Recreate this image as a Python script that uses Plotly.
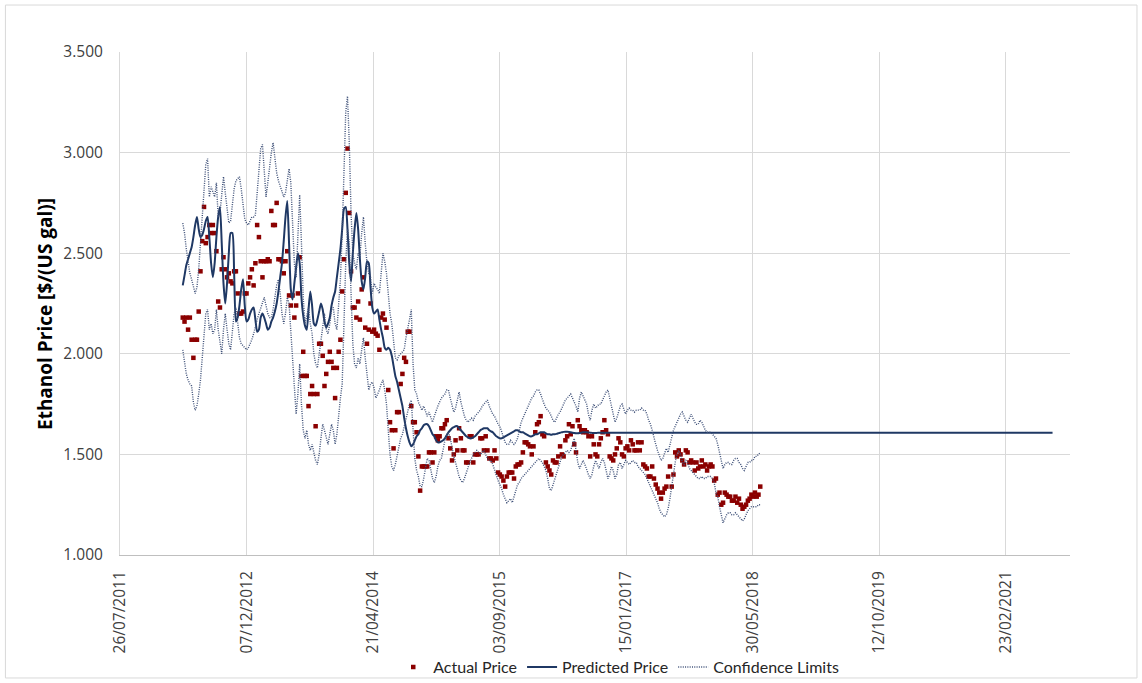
import pandas as pd
import plotly.graph_objects as go

# weekly observation dates (first week and count)
start_date = "2012-03-30"

actual = [
 2.18,2.16,2.18,2.12,2.18,2.07,1.98,2.07,2.07,2.21,
 2.41,2.56,2.73,2.55,2.58,2.64,2.60,2.64,2.60,2.51,
 2.26,2.23,2.42,2.48,2.42,2.38,2.40,2.36,2.35,2.41,
 2.41,2.30,2.20,2.20,2.21,2.30,2.30,2.35,2.38,2.42,
 2.34,2.45,2.64,2.58,2.46,2.38,2.46,2.46,2.47,2.46,
 2.71,2.64,2.64,2.75,2.47,2.47,2.46,2.40,2.46,2.51,
 2.29,2.24,2.29,2.18,2.24,2.30,2.48,1.89,2.01,1.89,
 1.89,1.74,1.80,1.84,1.80,1.64,1.80,2.05,2.05,1.99,
 1.84,1.90,1.96,2.01,1.96,1.93,1.78,1.93,2.01,2.07,
 2.31,2.47,2.80,3.02,2.70,2.41,2.23,2.23,2.18,2.26,
 2.17,2.32,2.38,2.13,2.05,2.12,2.25,2.11,2.12,2.10,
 2.09,2.02,2.18,2.20,2.17,2.13,1.82,1.66,1.62,1.53,
 1.62,1.71,1.71,1.85,1.90,1.98,1.96,2.11,2.11,1.74,
 1.66,1.66,1.61,1.49,1.32,1.44,1.44,1.44,1.44,1.51,
 1.51,1.46,1.51,1.59,1.57,1.59,1.63,1.63,1.65,1.67,
 1.58,1.53,1.47,1.50,1.57,1.52,1.63,1.58,1.52,1.52,
 1.46,1.46,1.59,1.59,1.46,1.50,1.50,1.50,1.58,1.58,
 1.52,1.59,1.52,1.48,1.48,1.47,1.52,1.48,1.41,1.40,
 1.39,1.37,1.34,1.39,1.41,1.41,1.41,1.38,1.44,1.45,
 1.45,1.46,1.51,1.56,1.56,1.55,1.54,1.50,1.54,1.61,
 1.65,1.66,1.69,1.60,1.59,1.46,1.44,1.42,1.40,1.47,
 1.46,1.46,1.49,1.54,1.50,1.49,1.57,1.59,1.65,1.60,
 1.64,1.55,1.51,1.67,1.64,1.62,1.61,1.62,1.61,1.59,
 1.49,1.59,1.55,1.50,1.49,1.55,1.58,1.61,1.67,1.62,
 1.60,1.49,1.48,1.47,1.50,1.53,1.58,1.56,1.50,1.49,
 1.53,1.54,1.52,1.57,1.55,1.52,1.52,1.56,1.52,1.56,
 1.45,1.44,1.43,1.39,1.39,1.44,1.38,1.35,1.33,1.31,
 1.28,1.31,1.33,1.34,1.39,1.44,1.34,1.40,1.51,1.49,
 1.52,1.50,1.47,1.45,1.52,1.51,1.46,1.47,1.46,1.42,
 1.46,1.43,1.44,1.47,1.44,1.45,1.42,1.44,1.45,1.44,
 1.37,1.38,1.30,1.31,1.25,1.26,1.31,1.30,1.29,1.29,
 1.27,1.27,1.29,1.26,1.28,1.25,1.23,1.24,1.25,1.27,
 1.28,1.30,1.29,1.31,1.29,1.30,1.34]

predicted = [
 2.34,2.39,2.44,2.47,2.50,2.53,2.58,2.64,2.68,2.62,
 2.58,2.59,2.62,2.66,2.68,2.58,2.45,2.38,2.45,2.58,
 2.68,2.73,2.55,2.35,2.25,2.35,2.50,2.60,2.60,2.40,
 2.16,2.18,2.24,2.32,2.37,2.24,2.16,2.17,2.20,2.22,
 2.23,2.17,2.11,2.12,2.18,2.20,2.18,2.15,2.12,2.13,
 2.16,2.18,2.21,2.25,2.31,2.38,2.45,2.56,2.68,2.76,
 2.55,2.32,2.27,2.35,2.43,2.50,2.45,2.28,2.19,2.14,
 2.12,2.22,2.31,2.24,2.15,2.14,2.17,2.21,2.25,2.22,
 2.16,2.13,2.15,2.18,2.24,2.28,2.31,2.38,2.45,2.52,
 2.62,2.72,2.73,2.62,2.45,2.36,2.50,2.62,2.70,2.62,
 2.47,2.36,2.32,2.38,2.46,2.45,2.33,2.23,2.20,2.21,
 2.22,2.17,2.12,2.08,2.03,2.02,2.03,2.02,1.99,1.94,
 1.89,1.86,1.82,1.78,1.74,1.68,1.63,1.59,1.56,1.54,
 1.55,1.57,1.59,1.60,1.62,1.63,1.645,1.65,1.65,1.64,
 1.62,1.60,1.59,1.57,1.56,1.56,1.565,1.57,1.58,1.595,
 1.61,1.62,1.63,1.635,1.64,1.64,1.63,1.62,1.61,1.60,
 1.59,1.585,1.58,1.58,1.585,1.59,1.60,1.61,1.62,1.625,
 1.63,1.63,1.63,1.62,1.615,1.61,1.60,1.59,1.585,1.58,
 1.58,1.585,1.59,1.595,1.60,1.605,1.61,1.615,1.62,1.62,
 1.615,1.61,1.61,1.605,1.60,1.595,1.59,1.59,1.595,1.60,
 1.60,1.605,1.61,1.61,1.61,1.605,1.60,1.60,1.598,1.60,
 1.60,1.602,1.605,1.608,1.61,1.612,1.613,1.613,1.612,1.61,
 1.608,1.606,1.605,1.605,1.606,1.608,1.61,1.61,1.61,1.609,
 1.608,1.607,1.606,1.606,1.607,1.608,1.608,1.608,1.607,1.607,1.607]

# long-run forecast (flat)
forecast_dates = ["2017-06-30", "2018-06-29", "2019-06-28", "2020-06-26", "2021-08-27"]
forecast_values = [1.607, 1.607, 1.607, 1.607, 1.607]

upper = [
 2.65,2.60,2.52,2.45,2.40,2.37,2.34,2.30,2.33,2.42,
 2.55,2.68,2.82,2.94,2.97,2.78,2.83,2.80,2.78,2.85,
 2.68,2.70,2.80,2.88,2.80,2.73,2.65,2.66,2.76,2.82,
 2.86,2.87,2.88,2.82,2.74,2.67,2.65,2.64,2.66,2.68,
 2.68,2.69,2.80,2.92,3.02,3.04,2.88,2.78,2.85,2.94,
 3.00,3.05,2.97,2.90,2.86,2.83,2.80,2.78,2.80,2.86,
 2.92,2.85,2.65,2.45,2.38,2.60,2.79,2.55,2.28,2.15,
 2.20,2.23,2.15,2.10,2.00,1.95,1.93,2.00,2.08,2.15,
 2.20,2.12,2.10,2.15,2.22,2.23,2.15,2.12,2.25,2.37,
 2.60,2.95,3.20,3.28,3.05,2.70,2.50,2.45,2.42,2.50,
 2.48,2.60,2.68,2.55,2.45,2.40,2.38,2.30,2.35,2.33,
 2.32,2.30,2.40,2.50,2.46,2.40,2.30,2.20,2.15,2.05,
 1.98,1.97,1.99,2.00,2.01,2.02,2.08,2.12,2.17,2.22,
 1.95,1.82,1.80,1.76,1.74,1.72,1.74,1.71,1.69,1.71,
 1.68,1.66,1.69,1.72,1.74,1.76,1.78,1.79,1.80,1.82,
 1.82,1.78,1.74,1.71,1.73,1.77,1.81,1.76,1.72,1.69,
 1.67,1.66,1.67,1.68,1.67,1.69,1.70,1.71,1.72,1.74,
 1.75,1.76,1.77,1.74,1.72,1.70,1.69,1.67,1.65,1.64,
 1.61,1.58,1.56,1.55,1.55,1.57,1.56,1.55,1.56,1.58,
 1.62,1.66,1.68,1.70,1.72,1.74,1.76,1.78,1.79,1.81,
 1.82,1.82,1.80,1.77,1.75,1.73,1.72,1.71,1.69,1.67,
 1.66,1.68,1.70,1.71,1.73,1.75,1.77,1.78,1.79,1.80,
 1.78,1.76,1.74,1.71,1.78,1.81,1.79,1.77,1.75,1.70,
 1.67,1.72,1.75,1.73,1.74,1.75,1.75,1.77,1.79,1.81,
 1.82,1.77,1.74,1.70,1.66,1.68,1.71,1.74,1.75,1.72,
 1.70,1.72,1.73,1.72,1.72,1.71,1.72,1.72,1.72,1.73,
 1.72,1.72,1.70,1.67,1.65,1.62,1.58,1.55,1.52,1.49,
 1.47,1.48,1.51,1.53,1.51,1.55,1.59,1.62,1.64,1.66,
 1.68,1.70,1.71,1.69,1.67,1.66,1.68,1.70,1.68,1.66,
 1.65,1.65,1.67,1.66,1.64,1.62,1.61,1.61,1.61,1.60,
 1.59,1.58,1.55,1.51,1.46,1.43,1.45,1.46,1.46,1.45,
 1.45,1.47,1.48,1.48,1.46,1.45,1.43,1.42,1.44,1.46,
 1.46,1.47,1.47,1.49,1.49,1.50,1.51]

lower = [
 2.02,1.95,1.90,1.87,1.85,1.84,1.76,1.72,1.74,1.80,
 1.87,1.98,2.10,2.20,2.22,2.12,2.15,2.10,2.12,2.22,
 2.12,2.05,2.00,2.12,2.20,2.12,2.05,2.02,2.12,2.20,
 2.23,2.15,2.08,2.05,2.04,2.03,2.02,2.03,2.05,2.07,
 2.10,2.14,2.17,2.20,2.23,2.26,2.28,2.24,2.20,2.18,
 2.18,2.22,2.28,2.34,2.37,2.30,2.20,2.15,2.20,2.28,
 2.25,2.10,1.95,1.80,1.70,1.80,1.95,1.75,1.62,1.58,
 1.62,1.55,1.52,1.55,1.50,1.47,1.45,1.50,1.58,1.65,
 1.62,1.58,1.55,1.60,1.65,1.62,1.55,1.60,1.70,1.78,
 1.85,2.15,2.45,2.62,2.55,2.30,2.05,1.95,1.93,1.98,
 1.95,2.02,2.08,1.98,1.88,1.82,1.85,1.86,1.83,1.78,
 1.80,1.82,1.85,1.87,1.82,1.75,1.62,1.50,1.44,1.42,
 1.45,1.50,1.55,1.58,1.60,1.64,1.68,1.72,1.75,1.77,
 1.60,1.48,1.42,1.39,1.34,1.34,1.38,1.44,1.48,1.47,
 1.42,1.38,1.36,1.39,1.44,1.47,1.48,1.53,1.57,1.60,
 1.61,1.58,1.53,1.49,1.46,1.42,1.39,1.37,1.36,1.38,
 1.41,1.44,1.46,1.48,1.50,1.51,1.52,1.51,1.50,1.51,
 1.52,1.50,1.48,1.47,1.47,1.45,1.42,1.39,1.37,1.35,
 1.33,1.30,1.28,1.26,1.27,1.28,1.26,1.29,1.33,1.35,
 1.36,1.38,1.39,1.40,1.41,1.42,1.43,1.44,1.45,1.46,
 1.47,1.48,1.47,1.46,1.44,1.42,1.38,1.33,1.32,1.35,
 1.38,1.41,1.43,1.47,1.49,1.50,1.51,1.52,1.51,1.52,
 1.55,1.58,1.52,1.46,1.43,1.45,1.47,1.45,1.42,1.40,
 1.38,1.40,1.44,1.47,1.45,1.43,1.46,1.48,1.46,1.42,
 1.38,1.40,1.44,1.42,1.38,1.40,1.45,1.46,1.43,1.45,
 1.47,1.46,1.45,1.46,1.47,1.46,1.46,1.44,1.43,1.42,
 1.41,1.40,1.38,1.36,1.34,1.32,1.30,1.28,1.26,1.23,
 1.21,1.20,1.19,1.20,1.23,1.28,1.33,1.40,1.46,1.50,
 1.52,1.50,1.46,1.45,1.47,1.46,1.43,1.42,1.41,1.40,
 1.39,1.38,1.38,1.39,1.38,1.38,1.39,1.39,1.39,1.38,
 1.36,1.31,1.29,1.24,1.19,1.16,1.18,1.20,1.21,1.21,
 1.20,1.20,1.21,1.20,1.19,1.18,1.17,1.18,1.20,1.22,
 1.23,1.24,1.24,1.24,1.24,1.25,1.25]

y_ticks = [1.0, 1.5, 2.0, 2.5, 3.0, 3.5]
x_tick_start = "2011-07-26"
x_tick_step_days = 500
x_range = ["2011-07-26", "2021-11-04"]

weeks = pd.date_range(start_date, periods=len(actual), freq="7D")
pred_x = list(weeks[:len(predicted)]) + [pd.Timestamp(d) for d in forecast_dates]
pred_y = predicted + forecast_values

TICK_FONT = "Open Sans"
LEG_FONT = "Lato"
CL_COLOR = "#3E5078"
fig = go.Figure()
fig.add_trace(go.Scatter(x=weeks, y=actual, mode="markers", name="Actual Price",
                         marker=dict(symbol="square", size=4.5, color="#8B0000")))
fig.add_trace(go.Scatter(x=pred_x, y=pred_y, mode="lines", name="Predicted Price",
                         line=dict(color="#1F3864", width=2, shape="spline", smoothing=0.6)))
fig.add_trace(go.Scatter(x=weeks, y=upper, mode="lines", name="Confidence Limits",
                         legendgroup="cl",
                         line=dict(color=CL_COLOR, width=1.4, dash="1px,1.3px")))
fig.add_trace(go.Scatter(x=weeks, y=lower, mode="lines", name="Confidence Limits",
                         legendgroup="cl", showlegend=False,
                         line=dict(color=CL_COLOR, width=1.4, dash="1px,1.3px")))

fig.update_layout(
    width=1142, height=683,
    margin=dict(l=120, r=72, t=52, b=128, autoexpand=False),
    paper_bgcolor="white", plot_bgcolor="white",
    font=dict(family=TICK_FONT, size=15, color="#404040"),
    showlegend=True,
    legend=dict(orientation="h", x=0.525, xanchor="center", y=-0.223, yanchor="middle",
                font=dict(family=LEG_FONT, size=16, color="#262626"), itemwidth=30,
                bgcolor="rgba(0,0,0,0)"),
    xaxis=dict(type="date", range=x_range, tick0=x_tick_start, automargin=False,
               dtick=x_tick_step_days * 86400000, tickformat="%d/%m/%Y",
               tickangle=-90, showgrid=True, gridcolor="#D9D9D9", gridwidth=1,
               showline=True, linecolor="#BFBFBF", linewidth=1,
               ticks="outside", ticklen=9, tickcolor="rgba(0,0,0,0)",
               tickfont=dict(family=TICK_FONT, size=15.5, color="#404040"),
               zeroline=False),
    yaxis=dict(range=[1.0, 3.5], tickvals=y_ticks, tickformat=".3f", automargin=False,
               showgrid=True, gridcolor="#D9D9D9", gridwidth=1,
               showline=True, linecolor="#D9D9D9", zeroline=False,
               ticks="outside", ticklen=13, tickcolor="rgba(0,0,0,0)",
               tickfont=dict(family=TICK_FONT, size=15.5, color="#404040")),
)
fig.add_annotation(text="<b>Ethanol Price [$/(US gal)]</b>", textangle=-90,
                   xref="paper", yref="paper", x=-0.079, y=0.479,
                   xanchor="center", yanchor="middle", showarrow=False,
                   font=dict(family=TICK_FONT, size=19, color="#000000"))
fig.add_shape(type="rect", xref="paper", yref="paper",
              x0=-0.1206, x1=1.0705, y0=-0.2445, y1=1.0934,
              line=dict(color="#D9D9D9", width=1), fillcolor="rgba(0,0,0,0)", layer="below")

fig.write_html("out.html", config={"displayModeBar": False},
               post_script="document.body.style.margin='0px';")
